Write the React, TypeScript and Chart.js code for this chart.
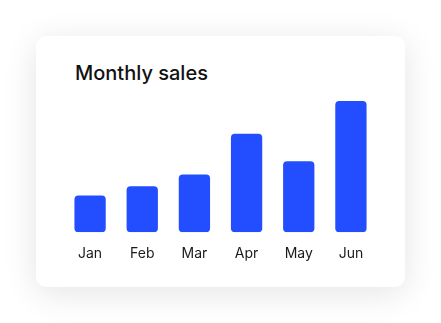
import React, { useEffect, useRef } from "react";
import { Chart, registerables } from "chart.js";

Chart.register(...registerables);

const categories = ["Jan", "Feb", "Mar", "Apr", "May", "Jun"];
const salesValues = [28, 35, 44, 75, 54, 100];
const chartTitle = "Monthly sales";

export default function App() {
  const canvasRef = useRef<HTMLCanvasElement | null>(null);

  useEffect(() => {
    document.body.style.margin = "0";
    const ctx = canvasRef.current;
    if (!ctx) return;
    const chart = new Chart(ctx, {
      type: "bar",
      data: {
        labels: categories,
        datasets: [
          {
            data: salesValues,
            backgroundColor: "#234EFF",
            borderRadius: 4,
            borderSkipped: false,
            barPercentage: 0.6,
            categoryPercentage: 1,
          },
        ],
      },
      options: {
        animation: false,
        responsive: false,
        maintainAspectRatio: false,
        layout: { padding: { top: 5, bottom: 10, left: 0, right: 0 } },
        plugins: {
          legend: { display: false },
          tooltip: { enabled: false },
          title: { display: false },
        },
        scales: {
          x: {
            grid: { display: false, drawTicks: false },
            border: { display: false },
            ticks: {
              padding: 13,
              color: "#1a1a1a",
              font: { family: "Inter", size: 14, weight: 400 },
            },
          },
          y: {
            display: false,
            min: 0,
            max: 100,
          },
        },
      },
    });
    return () => chart.destroy();
  }, []);

  return (
    <div
      style={{
        position: "fixed",
        left: 0,
        top: 0,
        width: 441,
        height: 323,
        background: "#ffffff",
        overflow: "hidden",
      }}
    >
      <div
        style={{
          position: "absolute",
          left: 36,
          top: 36,
          width: 369,
          height: 251,
          background: "#ffffff",
          borderRadius: 10,
          boxShadow: "0 6px 34px rgba(0,0,0,0.11)",
        }}
      >
        <div
          style={{
            position: "absolute",
            left: 39,
            top: 27,
            fontFamily: "Inter",
            fontSize: 20,
            lineHeight: "20px",
            fontWeight: 500,
            color: "#111111",
            whiteSpace: "nowrap",
          }}
        >
          {chartTitle}
        </div>
        <canvas
          ref={canvasRef}
          width={313}
          height={189}
          style={{ position: "absolute", left: 28, top: 60, width: 313, height: 189 }}
        />
      </div>
    </div>
  );
}
